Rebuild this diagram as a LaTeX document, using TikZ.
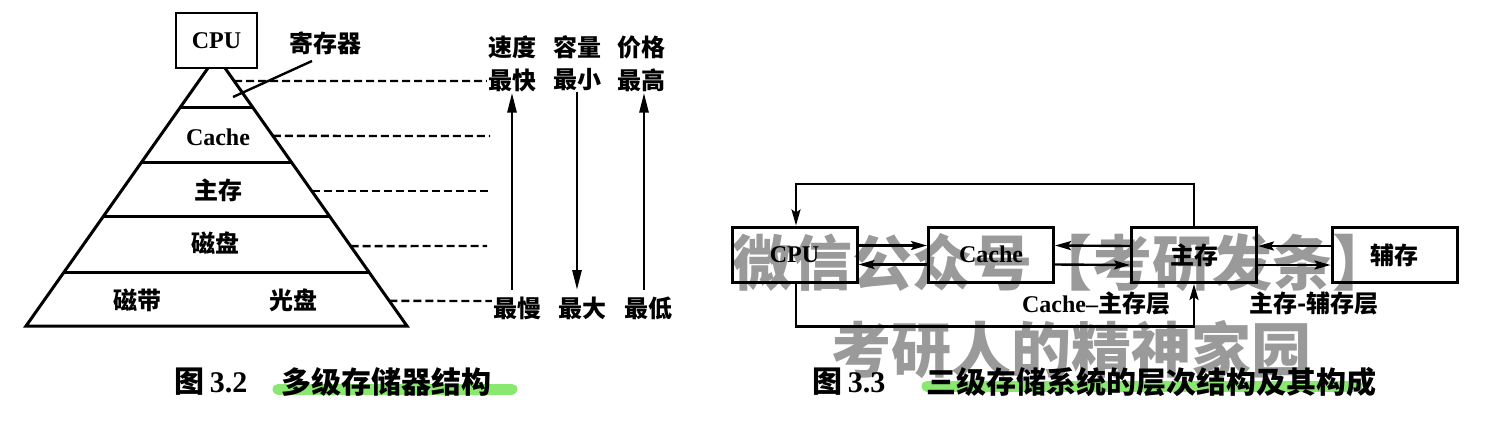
\documentclass[tikz,border=0pt]{standalone}
\usepackage{fontspec}
\setmainfont{Liberation Serif}
\newfontfamily\cjk{Noto Sans CJK SC}
\newcommand\zh[1]{{\cjk #1}}
\usetikzlibrary{arrows.meta,calc}
\definecolor{wmgray}{HTML}{9A9A9A}
\definecolor{hlgreen}{HTML}{8AE870}
\tikzset{
  lab/.style={font=\bfseries\fontsize{24}{26}\selectfont, inner sep=1pt},
  captext/.style={font=\bfseries\fontsize{30}{32}\selectfont, inner sep=0pt},
  wmark/.style={font=\cjk\bfseries\fontsize{60}{60}\selectfont, text=wmgray, inner sep=0pt},
  pyr/.style={line width=3pt, line join=miter},
  dashline/.style={line width=2.4pt, dash pattern=on 8pt off 4pt},
  cpubox/.style={draw, line width=2.8pt, fill=white, minimum width=81pt, minimum height=55pt, inner sep=0pt, font=\bfseries\fontsize{24}{26}\selectfont},
  unitbox/.style={draw, line width=3pt, minimum width=125pt, minimum height=55pt, inner sep=0pt, font=\bfseries\fontsize{24}{26}\selectfont},
  varrow/.style={line width=2.8pt, -{Triangle[length=20pt,width=9pt]}},
  harrow/.style={line width=2.4pt, -{Stealth[length=16pt,width=9pt,inset=3pt]}},
  hilite/.style={line width=11pt, line cap=round, hlgreen}
}
\begin{document}
\begin{tikzpicture}[x=1pt,y=-1pt]
\useasboundingbox (0,0) rectangle (1497,424);
% watermark (behind)
\node[wmark] (wm1) at (1062,263) {微信公众号【考研发条】};
\node[wmark] (wm2) at (1071,350) {考研人的精神家园};

% ---------- Figure 3.2 ----------
\coordinate (apex) at (216.5,56);
\coordinate (bl) at (26,326);
\coordinate (br) at (407,326);
\draw[pyr] (apex) -- (bl) -- (br) -- cycle;
\foreach \f in {0.189,0.393,0.593,0.8}
  \draw[pyr] ($(apex)!\f!(bl)$) -- ($(apex)!\f!(br)$);
\node[cpubox] (cpu1) at (216.5,40.5) {CPU};

\node[lab] (reg) at (325,43) {\zh{寄存器}};
\draw[line width=2.4pt] (312,61) -- (233,97);
\node[lab] (cache1) at (218,137) {Cache};
\node[lab] (mem1) at (218,190) {\zh{主存}};
\node[lab] (disk1) at (215,243) {\zh{磁盘}};
\node[lab] (tape1) at (137,300) {\zh{磁带}};
\node[lab] (opt1) at (293,300) {\zh{光盘}};

\node[lab] (spd) at (512,47) {\zh{速度}};
\node[lab] (fast) at (512,80) {\zh{最快}};
\node[lab] (capl) at (577,47) {\zh{容量}};
\node[lab] (small) at (577,80) {\zh{最小}};
\node[lab] (price) at (641,47) {\zh{价格}};
\node[lab] (high) at (641,80) {\zh{最高}};
\node[lab] (slow) at (517,308) {\zh{最慢}};
\node[lab] (big) at (582,308) {\zh{最大}};
\node[lab] (low) at (648,308) {\zh{最低}};

\draw[dashline] ($(apex)!0.0926!(br)$) -- (fast.west |- 0,81);
\draw[dashline] ($(apex)!0.296!(br)$) -- (490,136);
\draw[dashline] ($(apex)!0.5!(br)$) -- (488,191);
\draw[dashline] ($(apex)!0.704!(br)$) -- (487,246);
\draw[dashline] ($(apex)!0.907!(br)$) -- (slow.west |- 0,301);

\draw[varrow] (512,290) -- (fast.south -| 512,0);
\draw[varrow] (small.south -| 577,0) -- (577,290);
\draw[varrow] (644,290) -- (high.south -| 644,0);

\draw[hilite] (278,389) -- (512,389);
\node[captext] (c32a) at (211,382) {\zh{图}\,3.2};
\node[captext] (c32b) at (386,382) {\zh{多级存储器结构}};

% ---------- Figure 3.3 ----------
\node[unitbox] (cpu2) at (794.5,254.5) {CPU};
\node[unitbox] (cache2) at (991,254.5) {Cache};
\node[unitbox] (main2) at (1194,255) {\zh{主存}};
\node[unitbox] (aux2) at (1394.5,255) {\zh{辅存}};

\draw[harrow] ([yshift=9pt]cpu2.east) -- ([yshift=9pt]cache2.west);
\draw[harrow] ([yshift=-10pt]cache2.west) -- ([yshift=-10pt]cpu2.east);
\draw[harrow] ([yshift=9pt]main2.west) -- ([yshift=9pt]cache2.east);
\draw[harrow] ([yshift=-10pt]cache2.east) -- ([yshift=-10pt]main2.west);
\draw[harrow] ([yshift=9pt]aux2.west) -- ([yshift=9pt]main2.east);
\draw[harrow] ([yshift=-10pt]main2.east) -- ([yshift=-10pt]aux2.west);

\draw[harrow] (main2.north) -- ++(0,-42) -| ([xshift=1.5pt]cpu2.north);
\draw[harrow] ([xshift=1.5pt]cpu2.south) -- ++(0,43) -| (main2.south);

\node[lab] (lay1) at (1096,303) {Cache--\zh{主存层}};
\node[lab] (lay2) at (1314,303) {\zh{主存-辅存层}};

\draw[hilite] (927,386) -- (1357,386);
\node[captext] (c33a) at (849,382) {\zh{图}\,3.3};
\node[captext] (c33b) at (1151,382) {\zh{三级存储系统的层次结构及其构成}};
\end{tikzpicture}
\end{document}
